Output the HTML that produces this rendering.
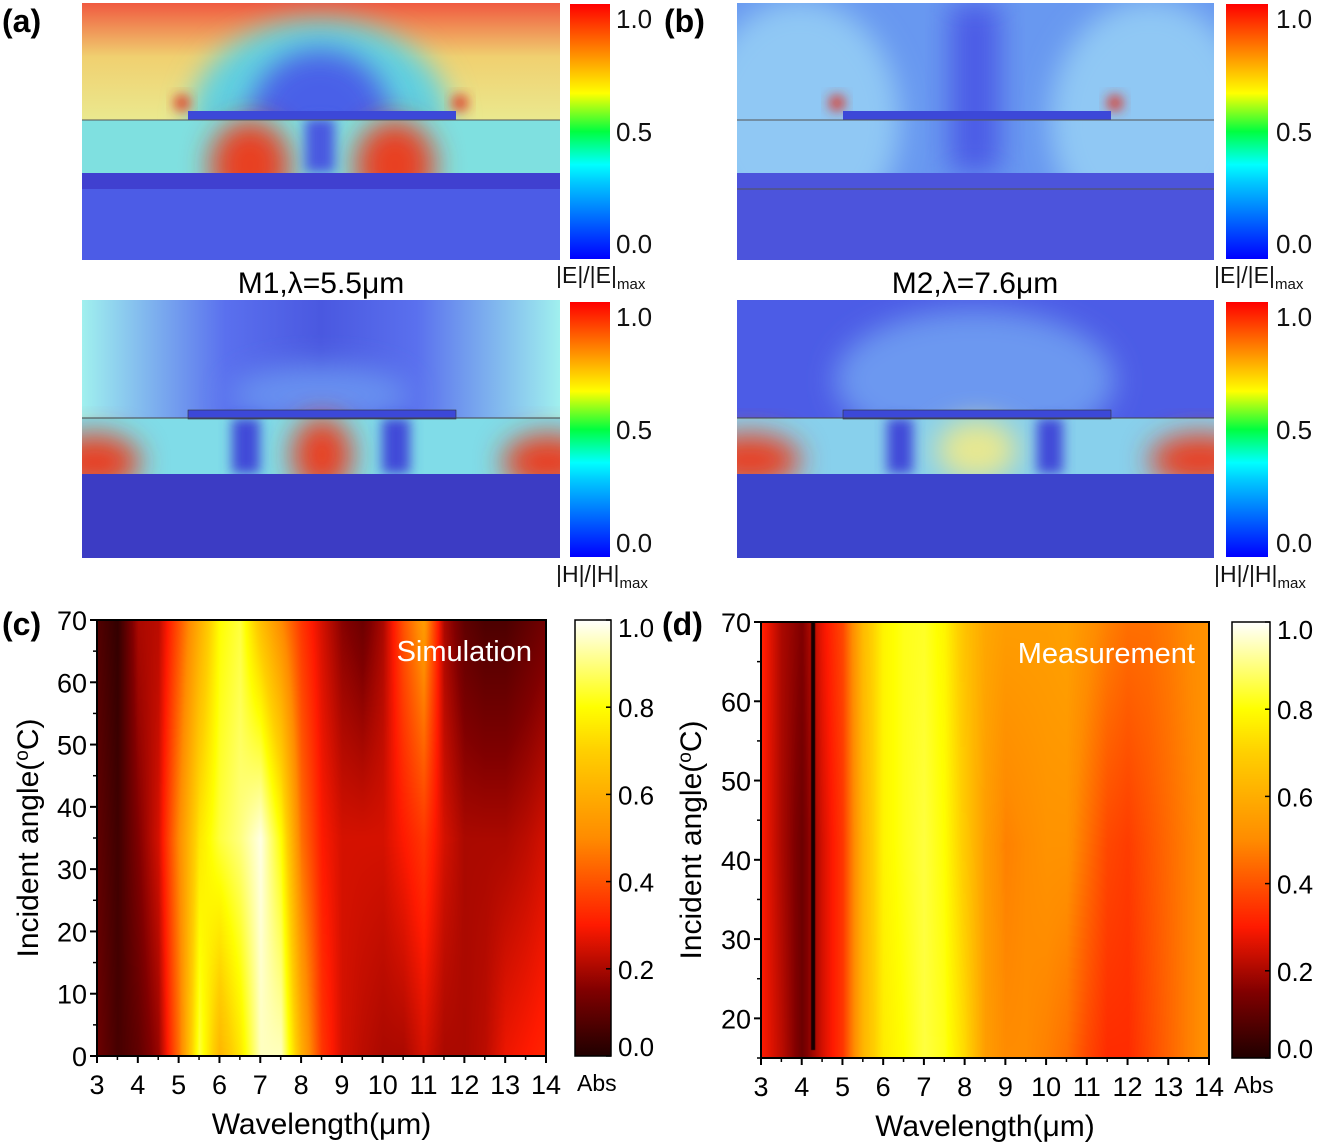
<!DOCTYPE html>
<html><head><meta charset="utf-8"><style>
body{margin:0;background:#fff;width:1321px;height:1144px;overflow:hidden;position:relative;font-family:"Liberation Sans",sans-serif}
canvas,svg{position:absolute;left:0;top:0}
</style></head><body>
<svg width="1321" height="1144" style="z-index:1">
<defs>
<filter id="bl" x="-50%" y="-50%" width="200%" height="200%"><feGaussianBlur stdDeviation="14"/></filter>
<filter id="bs" x="-50%" y="-50%" width="200%" height="200%"><feGaussianBlur stdDeviation="6"/></filter>
<linearGradient id="jet" x1="0" y1="1" x2="0" y2="0">
<stop offset="0" stop-color="#0000ff"/><stop offset="0.3" stop-color="#00c8ff"/><stop offset="0.37" stop-color="#00ffff"/><stop offset="0.5" stop-color="#00ff40"/><stop offset="0.65" stop-color="#ffff00"/><stop offset="0.8" stop-color="#ff9000"/><stop offset="1" stop-color="#ff0000"/></linearGradient>
<linearGradient id="aEtop" x1="0" y1="0" x2="0" y2="1"><stop offset="0" stop-color="#f05a40"/><stop offset="0.45" stop-color="#f0d070"/><stop offset="1" stop-color="#eaea90"/></linearGradient>
<linearGradient id="hTop" x1="0" y1="0" x2="1" y2="0"><stop offset="0" stop-color="#a0f0ee"/><stop offset="0.3" stop-color="#5a70ee"/><stop offset="0.5" stop-color="#4a58e0"/><stop offset="0.7" stop-color="#5a70ee"/><stop offset="1" stop-color="#a0f0ee"/></linearGradient>
<clipPath id="cA1"><rect x="82" y="3" width="478" height="257"/></clipPath>
<clipPath id="cA2"><rect x="82" y="300" width="478" height="258"/></clipPath>
<clipPath id="cB1"><rect x="737" y="3" width="477" height="257"/></clipPath>
<clipPath id="cB2"><rect x="737" y="300" width="477" height="258"/></clipPath>
</defs>
<g clip-path="url(#cA1)">
<rect x="82" y="3" width="478" height="120" fill="url(#aEtop)"/>
<ellipse cx="320" cy="120" rx="130" ry="100" fill="#60d0e0" filter="url(#bl)"/>
<ellipse cx="320" cy="120" rx="70" ry="70" fill="#4a60e8" filter="url(#bl)"/>
<rect x="82" y="120" width="478" height="53" fill="#7fe0e0"/>
<ellipse cx="250" cy="165" rx="40" ry="45" fill="#e84020" filter="url(#bl)"/>
<ellipse cx="395" cy="165" rx="40" ry="45" fill="#e84020" filter="url(#bl)"/>
<rect x="305" y="118" width="30" height="55" fill="#4a58e0" filter="url(#bs)"/>
<circle cx="182" cy="103" r="8" fill="#e03020" filter="url(#bs)"/>
<circle cx="460" cy="103" r="8" fill="#e03020" filter="url(#bs)"/>
<rect x="82" y="173" width="478" height="90" fill="#4c5ce6"/>
<rect x="82" y="173" width="478" height="16" fill="#4040d0"/>
<rect x="188" y="111" width="268" height="9" fill="#3c48d8"/>
<line x1="82" y1="120" x2="560" y2="120" stroke="#555" stroke-width="1"/>
</g>
<g clip-path="url(#cA2)">
<rect x="82" y="300" width="478" height="120" fill="url(#hTop)"/>
<ellipse cx="320" cy="395" rx="90" ry="30" fill="#6890f0" filter="url(#bl)"/>
<rect x="82" y="418" width="478" height="56" fill="#80dce8"/>
<ellipse cx="95" cy="462" rx="45" ry="28" fill="#e84020" filter="url(#bl)"/>
<ellipse cx="548" cy="462" rx="45" ry="28" fill="#e84020" filter="url(#bl)"/>
<ellipse cx="322" cy="455" rx="30" ry="38" fill="#e84020" filter="url(#bl)"/>
<rect x="232" y="418" width="28" height="56" fill="#4048d8" filter="url(#bs)"/>
<rect x="382" y="418" width="28" height="56" fill="#4048d8" filter="url(#bs)"/>
<rect x="82" y="474" width="478" height="90" fill="#3c3cc4"/>
<rect x="188" y="410" width="268" height="9" fill="#3c48d8" stroke="#333" stroke-width="0.6"/>
<line x1="82" y1="418" x2="560" y2="418" stroke="#444" stroke-width="1"/>
</g>
<g clip-path="url(#cB1)">
<rect x="737" y="3" width="477" height="260" fill="#6898f0"/>
<ellipse cx="800" cy="120" rx="100" ry="120" fill="#90c8f4" filter="url(#bl)"/>
<ellipse cx="1150" cy="120" rx="100" ry="120" fill="#90c8f4" filter="url(#bl)"/>
<rect x="950" y="3" width="50" height="170" fill="#4c5ce6" filter="url(#bl)"/>
<circle cx="837" cy="103" r="8" fill="#e03020" filter="url(#bs)"/>
<circle cx="1115" cy="103" r="8" fill="#e03020" filter="url(#bs)"/>
<rect x="737" y="173" width="477" height="90" fill="#4c54dc"/>
<rect x="843" y="111" width="268" height="9" fill="#3c48d8"/>
<line x1="737" y1="120" x2="1214" y2="120" stroke="#555" stroke-width="1"/>
<line x1="737" y1="189" x2="1214" y2="189" stroke="#555" stroke-width="1"/>
</g>
<g clip-path="url(#cB2)">
<rect x="737" y="300" width="477" height="120" fill="#4c5ce6"/>
<ellipse cx="975" cy="380" rx="140" ry="70" fill="#6c98f0" filter="url(#bl)"/>
<rect x="737" y="418" width="477" height="56" fill="#88d0ec"/>
<ellipse cx="750" cy="460" rx="50" ry="26" fill="#e84020" filter="url(#bl)"/>
<ellipse cx="1200" cy="460" rx="50" ry="26" fill="#e84020" filter="url(#bl)"/>
<ellipse cx="977" cy="450" rx="40" ry="30" fill="#e8e890" filter="url(#bl)"/>
<rect x="887" y="418" width="26" height="56" fill="#4048d8" filter="url(#bs)"/>
<rect x="1037" y="418" width="26" height="56" fill="#4048d8" filter="url(#bs)"/>
<rect x="737" y="474" width="477" height="90" fill="#3c44cc"/>
<rect x="843" y="410" width="268" height="9" fill="#3c48d8" stroke="#333" stroke-width="0.6"/>
<line x1="737" y1="418" x2="1214" y2="418" stroke="#444" stroke-width="1"/>
</g>
<g font-size="26" fill="#111">
<rect x="570" y="4" width="40" height="255" fill="url(#jet)"/>
<rect x="570" y="302" width="40" height="255" fill="url(#jet)"/>
<rect x="1226" y="4" width="42" height="255" fill="url(#jet)"/>
<rect x="1226" y="302" width="42" height="255" fill="url(#jet)"/>
<text x="616" y="28">1.0</text><text x="616" y="141">0.5</text><text x="616" y="253">0.0</text>
<text x="616" y="326">1.0</text><text x="616" y="439">0.5</text><text x="616" y="552">0.0</text>
<text x="1276" y="28">1.0</text><text x="1276" y="141">0.5</text><text x="1276" y="253">0.0</text>
<text x="1276" y="326">1.0</text><text x="1276" y="439">0.5</text><text x="1276" y="552">0.0</text>
<text x="556" y="283" font-size="23">|E|/|E|<tspan font-size="15" dy="6">max</tspan></text>
<text x="556" y="582" font-size="23">|H|/|H|<tspan font-size="15" dy="6">max</tspan></text>
<text x="1214" y="283" font-size="23">|E|/|E|<tspan font-size="15" dy="6">max</tspan></text>
<text x="1214" y="582" font-size="23">|H|/|H|<tspan font-size="15" dy="6">max</tspan></text>
</g>
<text x="321" y="293" font-size="30" text-anchor="middle">M1,λ=5.5μm</text>
<text x="975" y="293" font-size="30" text-anchor="middle">M2,λ=7.6μm</text>
<text x="2" y="32" font-size="32" font-weight="bold">(a)</text>
<text x="664" y="32" font-size="32" font-weight="bold">(b)</text>
<text x="2" y="635" font-size="32" font-weight="bold">(c)</text>
<text x="662" y="635" font-size="32" font-weight="bold">(d)</text>
</svg>
<canvas id="cv" width="1321" height="1144" style="z-index:2"></canvas>
<svg id="ax" width="1321" height="1144" style="z-index:3"></svg>
<script>
const simWl = [3,3.5,4,4.5,5,5.5,6,6.5,7,7.5,8,8.5,9,9.5,10,10.5,11,11.5,12,12.5,13,13.5,14];
const simAngles = [0,35,70];
const simA0  = [0.12,0.06,0.1,0.18,0.45,0.85,0.62,0.75,0.95,0.95,0.6,0.35,0.25,0.22,0.2,0.2,0.25,0.2,0.2,0.22,0.28,0.3,0.32];
const simA35 = [0.1,0.05,0.15,0.25,0.5,0.75,0.85,0.9,0.98,0.8,0.45,0.3,0.25,0.25,0.25,0.3,0.35,0.25,0.2,0.2,0.2,0.22,0.25];
const simA70 = [0.08,0.03,0.2,0.22,0.4,0.6,0.8,0.85,0.65,0.5,0.35,0.25,0.16,0.12,0.2,0.4,0.55,0.2,0.1,0.07,0.07,0.1,0.13];
const measWl = [3,3.5,4,4.5,5,5.5,6,6.5,7,7.5,8,8.5,9,9.5,10,10.5,11,11.5,12,12.5,13,13.5,14];
const measAngles = [15,42,70];
const measA15 = [0.3,0.22,0.12,0.25,0.35,0.62,0.76,0.8,0.85,0.82,0.72,0.55,0.5,0.5,0.48,0.45,0.38,0.33,0.33,0.38,0.43,0.48,0.52];
const measA42 = [0.3,0.2,0.12,0.25,0.35,0.62,0.78,0.82,0.85,0.8,0.68,0.55,0.48,0.5,0.52,0.52,0.45,0.38,0.36,0.4,0.44,0.48,0.52];
const measA70 = [0.32,0.2,0.15,0.28,0.38,0.64,0.78,0.82,0.83,0.78,0.66,0.58,0.55,0.55,0.55,0.56,0.52,0.48,0.45,0.45,0.47,0.5,0.52];
const measDipWl = [4.28];
const xTicks = [3,4,5,6,7,8,9,10,11,12,13,14];
const yTicksC = [0,10,20,30,40,50,60,70];
const yTicksD = [20,30,40,50,60,70];
const cbTicks = [0.0,0.2,0.4,0.6,0.8,1.0];

const stops=[[0,[32,0,0]],[0.15,[128,0,0]],[0.3,[255,26,0]],[0.5,[255,140,0]],[0.7,[255,208,0]],[0.8,[255,255,0]],[1,[255,255,255]]];
function cmap(v){v=Math.max(0,Math.min(1,v));for(let i=1;i<stops.length;i++){if(v<=stops[i][0]){const a=stops[i-1],b=stops[i];const t=(v-a[0])/(b[0]-a[0]);return a[1].map((c,k)=>Math.round(c+(b[1][k]-c)*t));}}return stops[stops.length-1][1];}
function interp(xs,ys,x){if(x<=xs[0])return ys[0];for(let i=1;i<xs.length;i++){if(x<=xs[i]){const t=(x-xs[i-1])/(xs[i]-xs[i-1]);return ys[i-1]+(ys[i]-ys[i-1])*t;}}return ys[ys.length-1];}
const ctx=document.getElementById('cv').getContext('2d');
const NS='http://www.w3.org/2000/svg';const ax=document.getElementById('ax');
function el(tag,attrs,txt){const e=document.createElementNS(NS,tag);for(const k in attrs)e.setAttribute(k,attrs[k]);if(txt!==undefined)e.textContent=txt;ax.appendChild(e);return e;}

function heat(P){
  const xS=w=>P.x0+(w-3)/11*(P.x1-P.x0);
  const yS=a=>P.y1-(a-P.amin)/(P.amax-P.amin)*(P.y1-P.y0);
  const W=P.x1-P.x0,H=P.y1-P.y0;const img=ctx.createImageData(W,H);
  for(let px=0;px<W;px++){const wl=3+px/W*11;
    const col=P.rows.map(r=>interp(P.wl,r,wl));
    for(let py=0;py<H;py++){const ang=P.amax-py/H*(P.amax-P.amin);
      const v=interp(P.angles,col,ang);const c=cmap(v);const i=(py*W+px)*4;
      img.data[i]=c[0];img.data[i+1]=c[1];img.data[i+2]=c[2];img.data[i+3]=255;}}
  ctx.putImageData(img,P.x0,P.y0);
  if(P.dip){P.dip.forEach(d=>{const x=xS(d);ctx.fillStyle='#150000';ctx.fillRect(x-2,P.y0,4,H-8);});}
  const cb=ctx.createLinearGradient(0,P.y1,0,P.y0);stops.forEach(s=>cb.addColorStop(s[0],'rgb('+s[1].join(',')+')'));
  ctx.fillStyle=cb;ctx.fillRect(P.cx,P.y0,P.cw,H);
  const f=el('rect',{x:P.x0,y:P.y0,width:W,height:H,fill:'none',stroke:'#000','stroke-width':2});
  
  
  const cf=el('rect',{x:P.cx,y:P.y0,width:P.cw,height:H,fill:'none',stroke:'#000','stroke-width':1.5});
  
  
  xTicks.forEach(t=>{const x=xS(t);el('line',{x1:x,y1:P.y1,x2:x,y2:P.y1+7,stroke:'#000','stroke-width':2});
    if(t<14)el('line',{x1:xS(t+0.5),y1:P.y1,x2:xS(t+0.5),y2:P.y1+4,stroke:'#000','stroke-width':1.5});
    const tx=el('text',{x:x,y:P.y1+38,'font-size':27,'text-anchor':'middle'},String(t));
    
    });
  P.yt.forEach(t=>{const y=yS(t);el('line',{x1:P.x0-7,y1:y,x2:P.x0,y2:y,stroke:'#000','stroke-width':2});
    if(t+5<=P.amax)el('line',{x1:P.x0-4,y1:yS(t+5),x2:P.x0,y2:yS(t+5),stroke:'#000','stroke-width':1.5});
    const tx=el('text',{x:P.x0-10,y:y+10,'font-size':27,'text-anchor':'end'},String(t));
    
    });
  if(P.amin<P.yt[0])el('line',{x1:P.x0-4,y1:yS(P.amin),x2:P.x0,y2:yS(P.amin),stroke:'#000','stroke-width':1.5});
  cbTicks.forEach(t=>{const y=P.y1-t*H;el('line',{x1:P.cx+P.cw-5,y1:y,x2:P.cx+P.cw,y2:y,stroke:'#000','stroke-width':1.5});
    const tx=el('text',{x:P.cx+P.cw+7,y:y+(t===1?17:t===0?0:10),'font-size':26},t.toFixed(1));
    
    });
  const ab=el('text',{x:P.cx+2,y:P.y1+35,'font-size':23},'Abs');
  
  
  const xt=el('text',{x:(P.x0+P.x1)/2,y:P.y1+78,'font-size':30,'text-anchor':'middle'},'Wavelength(μm)');
  
  
  const yc=(P.y0+P.y1)/2;
  const yt=el('text',{x:P.ytx,y:yc,'font-size':30,'text-anchor':'middle',transform:'rotate(-90 '+P.ytx+' '+yc+')'});
  yt.innerHTML='Incident angle(<tspan dy="-10" font-size="19">o</tspan><tspan dy="10">C)</tspan>';
  
  
  const lab=el('text',{x:P.x1-14,y:P.y0+41,'font-size':29,fill:'#fff','text-anchor':'end'},P.label);
  
  
}
heat({id:'simulation',x0:97,x1:546,y0:620,y1:1056,amin:0,amax:70,wl:simWl,angles:simAngles,rows:[simA0,simA35,simA70],yt:yTicksC,cx:575,cw:36,ytx:38,label:'Simulation'});
heat({id:'measurement',x0:761,x1:1209,y0:622,y1:1058,amin:15,amax:70,wl:measWl,angles:measAngles,rows:[measA15,measA42,measA70],yt:yTicksD,cx:1232,cw:38,ytx:701,label:'Measurement',dip:measDipWl});
</script>
</body></html>
